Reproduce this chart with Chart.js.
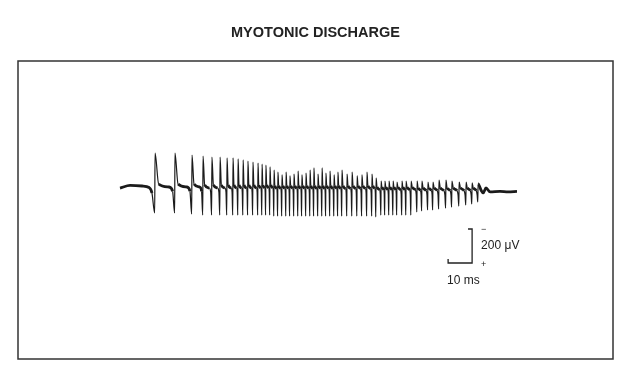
<!DOCTYPE html>
<html>
<head>
<meta charset="utf-8">
<title>Myotonic discharge</title>
<script src="https://cdn.jsdelivr.net/npm/chart.js@4/dist/chart.umd.min.js"></script>
<style>
  html, body { margin: 0; padding: 0; background: #fff; }
  canvas { display: block; }
</style>
</head>
<body>
<canvas id="emg" width="633" height="372"></canvas>
<script>
// trace values: time in ms, amplitude in µV
const headTimes = [0, 4.2, 9.2, 12.1, 13.3];
const headValues = [-6, 9, 6, -3, -35];

const spikeTimes = [
  14.6, 22.9, 30.0, 34.6, 38.3, 41.7, 44.6, 47.1, 49.2, 51.3,
  53.3, 55.4, 57.5, 59.2, 60.8, 62.5, 64.2, 65.8, 67.5, 69.2,
  70.8, 72.5, 74.2, 75.8, 77.5, 79.2, 80.8, 82.5, 84.2, 85.8,
  87.5, 89.2, 90.8, 92.5, 94.6, 96.7, 98.8, 100.8, 102.9, 105.0,
  106.7, 108.8, 110.4, 112.1, 113.8, 115.4, 117.5, 119.2, 121.3, 123.8,
  125.8, 128.3, 130.4, 132.9, 135.8, 138.3, 141.3, 144.2, 146.7, 149.2
];
const spikePeaks = [
  200, 200, 188, 182, 176, 176, 171, 171, 165, 159,
  153, 147, 141, 135, 129, 118, 100, 88, 71, 88,
  65, 76, 94, 71, 82, 100, 112, 76, 112, 82,
  94, 71, 88, 100, 76, 88, 65, 71, 88, 76,
  53, 35, 35, 35, 35, 29, 35, 35, 35, 35,
  35, 29, 29, 41, 41, 35, 29, 29, 24, 18
];
const spikeTroughs = [
  -153, -153, -159, -165, -165, -165, -165, -165, -165, -165,
  -165, -165, -165, -165, -165, -165, -171, -171, -171, -171,
  -171, -171, -171, -171, -171, -171, -171, -171, -171, -171,
  -171, -171, -171, -171, -171, -171, -171, -171, -171, -171,
  -176, -165, -165, -165, -165, -165, -165, -165, -165, -147,
  -141, -135, -135, -129, -124, -118, -112, -106, -100, -88
];
const spikeSettle = [
  0, 0, 0, -6, -6, -6, -6, -6, -6, -6,
  -6, -6, -6, -6, -6, -6, -10, -10, -10, -10,
  -10, -10, -10, -10, -10, -10, -10, -10, -10, -10,
  -10, -10, -10, -10, -10, -10, -10, -10, -10, -10,
  -18, -18, -18, -18, -18, -18, -18, -18, -18, -22,
  -22, -22, -22, -22, -22, -22, -22, -22, -22, -22
];

const tailTimes = [150.4, 151.3, 152.5, 154.2, 158.3, 161.7, 165.4];
const tailValues = [-18, -35, -6, -29, -26, -29, -26];

// calibration bar: 10 ms by 200 µV
const scaleBarX = [145.0, 146.7, 146.7, 136.7, 136.7];
const scaleBarY = [-247, -247, -447, -447, -423];

function buildTrace() {
  const pts = headTimes.map((t, i) => ({ x: t, y: headValues[i] }));

  spikeTimes.forEach((t, i) => {
    pts.push({ x: t - 0.15, y: spikeTroughs[i] });
    pts.push({ x: t, y: spikePeaks[i] });

    if (i < spikeTimes.length - 1) {
      const gap = spikeTimes[i + 1] - t;
      const s = spikeSettle[i];
      pts.push({ x: t + gap * 0.18, y: s + 18 });
      pts.push({ x: t + gap * 0.7, y: s });
      pts.push({ x: t + gap * 0.9 - 0.15, y: s - 25 });
    }
  });

  tailTimes.forEach((t, i) => pts.push({ x: t, y: tailValues[i] }));
  return pts;
}

const ink = "#1b1b1b";

// frame around the plot plus the calibration labels
const framePlugin = {
  id: "frame",
  afterDraw(chart) {
    const { ctx, chartArea, scales } = chart;
    ctx.save();
    ctx.strokeStyle = "#333";
    ctx.lineWidth = 1.5;
    ctx.strokeRect(chartArea.left, chartArea.top, chartArea.right - chartArea.left, chartArea.bottom - chartArea.top);

    const barRight = scales.x.getPixelForValue(scaleBarX[1]);
    const barLeft = scales.x.getPixelForValue(scaleBarX[3]);
    const barTop = scales.y.getPixelForValue(scaleBarY[0]);
    const barBottom = scales.y.getPixelForValue(scaleBarY[2]);

    ctx.fillStyle = "#222";
    ctx.textBaseline = "middle";
    ctx.textAlign = "left";
    ctx.font = "12px 'Liberation Sans', Arial, sans-serif";
    ctx.fillText("200 μV", barRight + 9, (barTop + barBottom) / 2);
    ctx.fillText("10 ms", barLeft - 1, barBottom + 18);

    ctx.font = "9px 'Liberation Sans', Arial, sans-serif";
    ctx.fillText("−", barRight + 9, barTop + 1);
    ctx.fillText("+", barRight + 9, barBottom + 2);
    ctx.restore();
  }
};

new Chart(document.getElementById("emg"), {
  type: "line",
  data: {
    datasets: [
      {
        label: "EMG",
        data: buildTrace(),
        borderColor: ink,
        borderWidth: 1.2,
        pointRadius: 0,
        fill: false,
        cubicInterpolationMode: "monotone",
        segment: {
          borderWidth(ctx) {
            const dx = Math.abs(ctx.p1.x - ctx.p0.x);
            const dy = Math.abs(ctx.p1.y - ctx.p0.y);
            return dy > dx * 2.5 ? 1.2 : 2.8;
          }
        }
      },
      {
        label: "calibration",
        data: scaleBarX.map((x, i) => ({ x, y: scaleBarY[i] })),
        borderColor: "#222",
        borderWidth: 1.3,
        pointRadius: 0,
        fill: false,
        tension: 0
      }
    ]
  },
  options: {
    responsive: false,
    animation: false,
    parsing: false,
    layout: {
      padding: { left: 18, right: 20, top: 0, bottom: 13 }
    },
    plugins: {
      legend: { display: false },
      tooltip: { enabled: false },
      title: {
        display: true,
        text: "MYOTONIC DISCHARGE",
        color: "#222",
        font: { family: "'Liberation Sans', Arial, sans-serif", size: 14.5, weight: "bold" },
        padding: { top: 24, bottom: 19.6 }
      }
    },
    scales: {
      x: { type: "linear", display: false, min: -42.5, max: 205.4 },
      y: { type: "linear", display: false, min: -1011.8, max: 741.2 }
    }
  },
  plugins: [framePlugin]
});
</script>
</body>
</html>
